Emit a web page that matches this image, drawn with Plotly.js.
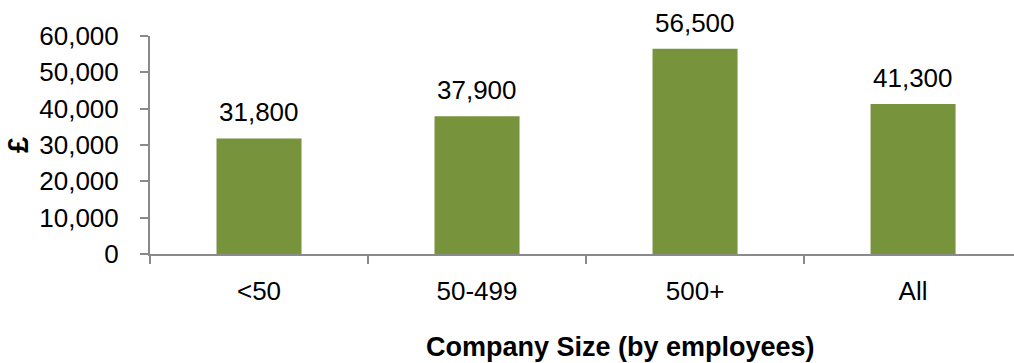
<!DOCTYPE html>
<html>
<head>
<meta charset="utf-8">
<script src="https://cdn.plot.ly/plotly-3.0.1.min.js"></script>
<style>
html,body{margin:0;padding:0;background:#fff;overflow:hidden;}
#chart{width:1014px;height:363px;}
</style>
</head>
<body>
<div id="chart"></div>
<script>
const categories = ["<50", "50-499", "500+", "All"];
const salaries = [31800, 37900, 56500, 41300];
const valueLabels = ["31,800", "37,900", "56,500", "41,300"];
const yTickValues = [0, 10000, 20000, 30000, 40000, 50000, 60000];
const yTickLabels = ["0", "10,000", "20,000", "30,000", "40,000", "50,000", "60,000"];
const xTitle = "Company Size (by employees)";
const yTitle = "£";

const FONT = "Liberation Sans, Arial, sans-serif";
const AXIS = "#8a8a8a";

const trace = {
  type: "bar",
  x: categories,
  y: salaries,
  marker: {color: "#77933C", line: {width: 0}},
  hoverinfo: "skip"
};

const annotations = categories.map((c, i) => ({
  x: c, y: salaries[i], xref: "x", yref: "y",
  text: valueLabels[i], showarrow: false,
  yanchor: "bottom", yshift: 9,
  font: {family: FONT, size: 26, color: "#000"}
}));
annotations.push({
  xref: "paper", yref: "paper", x: 0.544, y: -0.427,
  xanchor: "center", yanchor: "middle", showarrow: false,
  text: "<b>" + xTitle + "</b>",
  font: {family: FONT, size: 27, color: "#000"}
});

const layout = {
  width: 1014, height: 363,
  margin: {l: 150, r: 0, t: 36, b: 109, pad: 0},
  paper_bgcolor: "#fff", plot_bgcolor: "#fff",
  showlegend: false,
  bargap: 0.61,
  font: {family: FONT, size: 26, color: "#000"},
  xaxis: {
    type: "category",
    range: [-0.5, 3.463],
    showline: true, linecolor: AXIS, linewidth: 2,
    ticks: "outside", tickson: "boundaries", ticklen: 8, tickwidth: 2, tickcolor: AXIS,
    showgrid: false, zeroline: false,
    tickfont: {family: FONT, size: 26, color: "#000"},
    ticklabelstandoff: 13,
    fixedrange: true
  },
  yaxis: {
    range: [0, 60000],
    tickvals: yTickValues, ticktext: yTickLabels,
    showline: true, linecolor: AXIS, linewidth: 2,
    ticks: "outside", ticklen: 8, tickwidth: 2, tickcolor: AXIS,
    showgrid: false, zeroline: false,
    tickfont: {family: FONT, size: 26, color: "#000"},
    ticklabelstandoff: 16,
    title: {text: "<b>" + yTitle + "</b>", font: {family: FONT, size: 29, color: "#000"}, standoff: 2},
    fixedrange: true
  },
  annotations: annotations
};

Plotly.newPlot("chart", [trace], layout, {displayModeBar: false, staticPlot: true});
</script>
</body>
</html>
